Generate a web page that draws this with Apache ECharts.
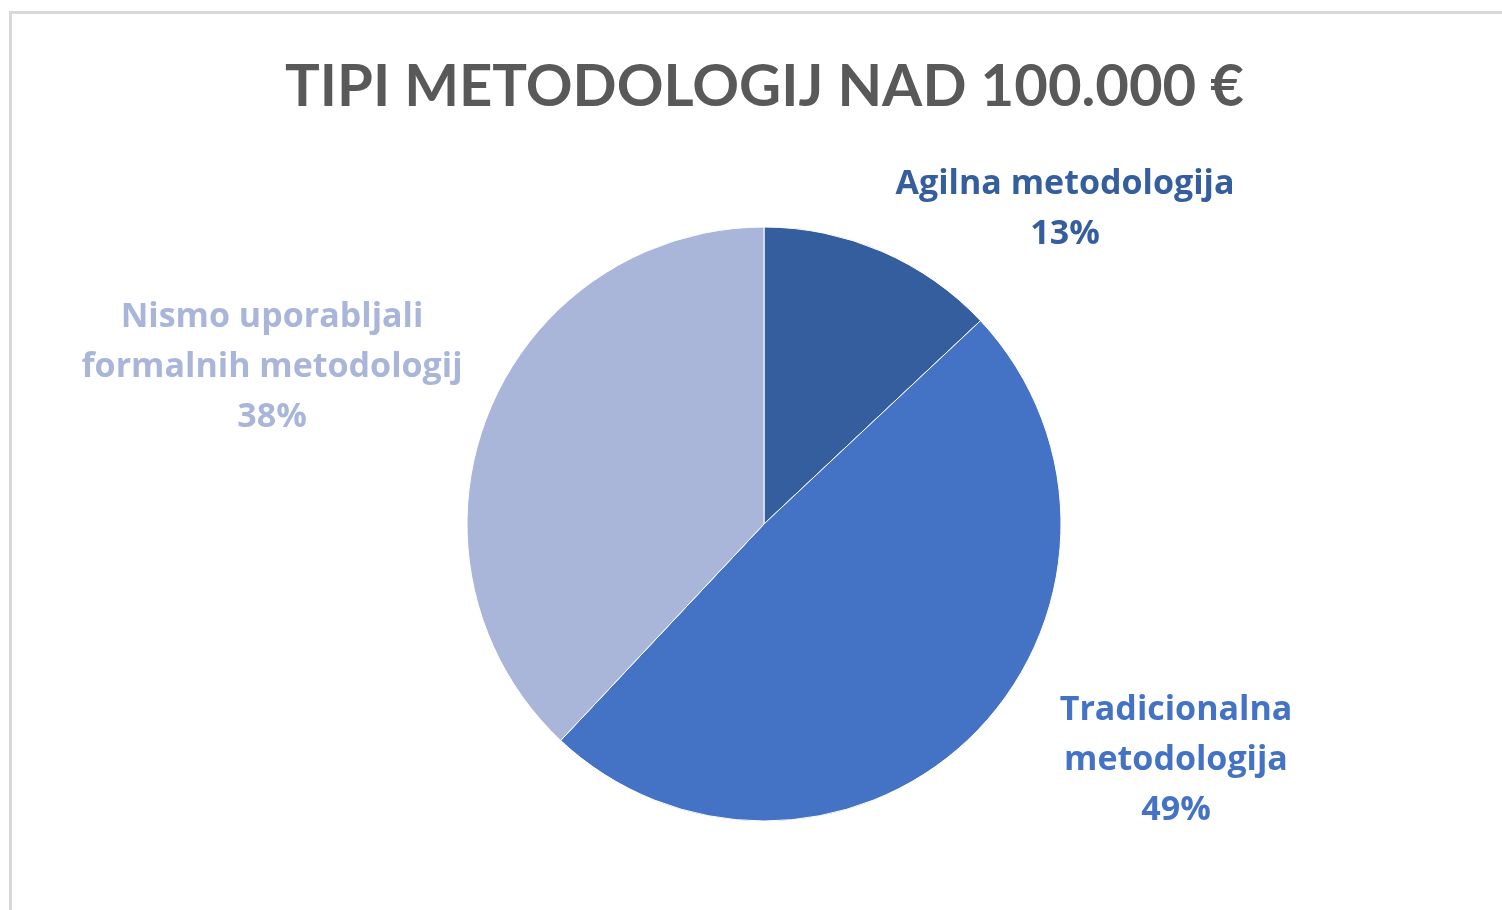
<!DOCTYPE html>
<html>
<head>
<meta charset="utf-8">
<script src="https://cdn.jsdelivr.net/npm/echarts@6/dist/echarts.min.js"></script>
<style>
  html, body { margin: 0; padding: 0; background: #fff; overflow: hidden; }
  #chart { position: absolute; left: 0; top: 0; width: 1502px; height: 910px; }
  .frame {
    position: absolute; left: 9px; top: 11px; width: 2000px; height: 2000px;
    border-left: 3px solid #d9d9d9; border-top: 3px solid #d9d9d9;
    pointer-events: none;
  }
</style>
</head>
<body>
<div id="chart"></div>
<div class="frame"></div>
<script>
const titleText = 'TIPI METODOLOGIJ NAD 100.000 €'
const categories = ['Agilna metodologija', 'Tradicionalna metodologija', 'Nismo uporabljali formalnih metodologij']
const labelNames = ['Agilna metodologija', 'Tradicionalna\nmetodologija', 'Nismo uporabljali\nformalnih metodologij']
const values = [13, 49, 38]
const colors = ['#355E9F', '#4472C4', '#A9B6DA']

// where each label sits (Excel placed them by hand)
const labelSpots = [
  { x: 1065, y: 209 },
  { x: 1176, y: 760 },
  { x: 272, y: 367 }
]

const chart = echarts.init(document.getElementById('chart'))

chart.setOption({
  animation: false,
  title: {
    text: titleText,
    left: 280, // centred over the pie, not the window
    top: 53,
    textStyle: {
      fontFamily: 'Lato',
      fontWeight: 'bold',
      fontSize: 58,
      color: '#595959'
    }
  },
  series: [{
    type: 'pie',
    center: [764, 524],
    radius: 297,
    startAngle: 90,
    clockwise: true,
    itemStyle: { borderColor: '#fff', borderWidth: 1 },
    label: {
      show: true,
      position: 'outside',
      fontFamily: 'Open Sans',
      fontWeight: 'bold',
      fontSize: 34,
      lineHeight: 50,
      align: 'center',
      formatter: (p) => labelNames[p.dataIndex] + '\n' + p.value + '%'
    },
    labelLine: { show: false },
    labelLayout: (params) => ({
      x: labelSpots[params.dataIndex].x,
      y: labelSpots[params.dataIndex].y,
      align: 'center',
      verticalAlign: 'middle'
    }),
    data: categories.map((name, i) => ({
      name,
      value: values[i],
      itemStyle: { color: colors[i] },
      label: { color: colors[i] }
    }))
  }]
})
</script>
</body>
</html>
